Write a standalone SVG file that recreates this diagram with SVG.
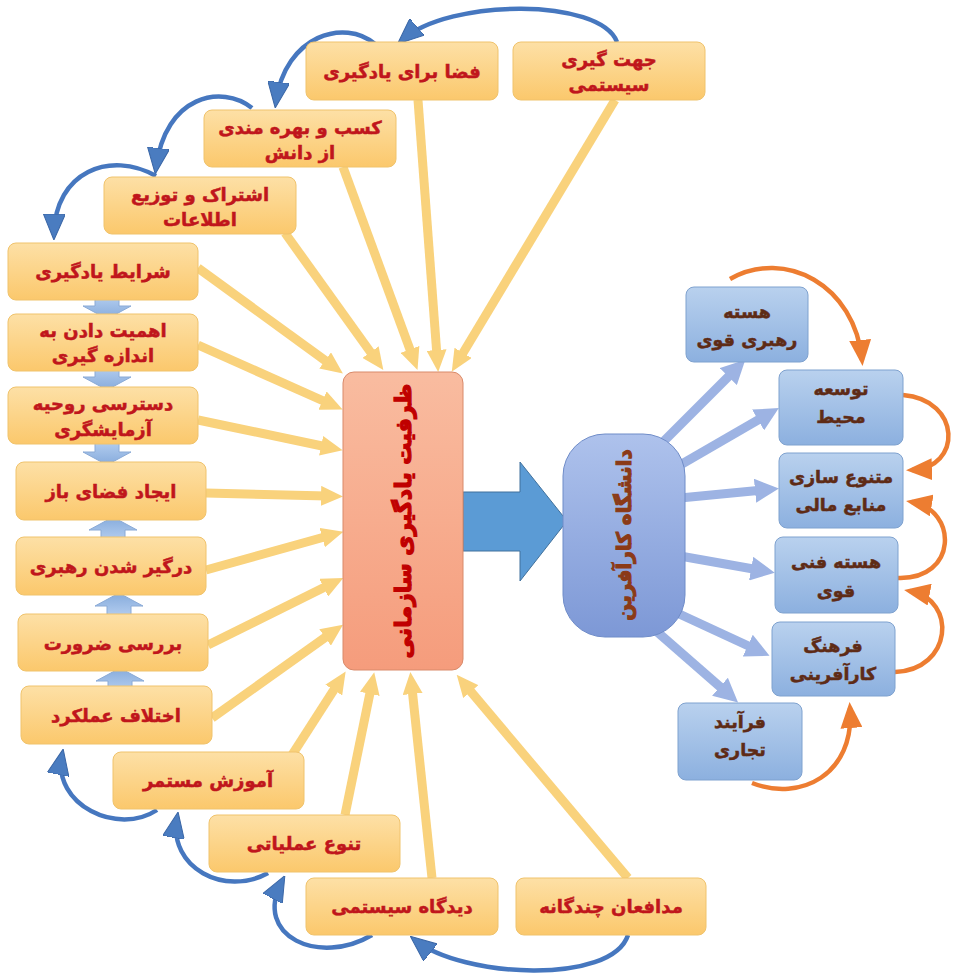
<svg xmlns="http://www.w3.org/2000/svg" width="958" height="973" viewBox="0 0 958 973">
<defs>
<linearGradient id="gy" x1="0" y1="0" x2="0" y2="1"><stop offset="0" stop-color="#fde0a6"/><stop offset="1" stop-color="#fbc86c"/></linearGradient>
<linearGradient id="gb" x1="0" y1="0" x2="0" y2="1"><stop offset="0" stop-color="#b9d1ee"/><stop offset="1" stop-color="#8cb0df"/></linearGradient>
<linearGradient id="gc" x1="0" y1="0" x2="0" y2="1"><stop offset="0" stop-color="#f9bca0"/><stop offset="1" stop-color="#f59c7c"/></linearGradient>
<linearGradient id="gu" x1="0" y1="0" x2="0" y2="1"><stop offset="0" stop-color="#aec2ec"/><stop offset="1" stop-color="#7d98d6"/></linearGradient>
<linearGradient id="gk" x1="0" y1="0" x2="0" y2="1"><stop offset="0" stop-color="#b3cdef"/><stop offset="1" stop-color="#86abdc"/></linearGradient>
<marker id="yh" viewBox="0 0 22 20" markerWidth="22" markerHeight="20" refX="6" refY="10" markerUnits="userSpaceOnUse" orient="auto"><path d="M0,0 L22,10 L0,20 Z" fill="#f9d27c"/></marker>
<marker id="lh" viewBox="0 0 24 24" markerWidth="24" markerHeight="24" refX="8" refY="12" markerUnits="userSpaceOnUse" orient="auto"><path d="M0,0 L24,12 L0,24 Z" fill="#9db3e3"/></marker>
<marker id="bh" viewBox="0 0 26 22" markerWidth="26" markerHeight="22" refX="20" refY="11" markerUnits="userSpaceOnUse" orient="auto"><path d="M0,0 L26,11 L0,22 Z" fill="#4a7cc0" stroke="#3a66a6" stroke-width="1"/></marker>
<marker id="oh" viewBox="0 0 26 22" markerWidth="26" markerHeight="22" refX="20" refY="11" markerUnits="userSpaceOnUse" orient="auto"><path d="M0,0 L26,11 L0,22 Z" fill="#ed7d31"/></marker>
<path id="blk" d="M-12,-10 H12 V0 H24 L0,13 L-24,0 H-12 Z"/>
<style>
.yb{fill:url(#gy);stroke:#f0c36c;stroke-width:1}
.bb{fill:url(#gb);stroke:#7fa2cf;stroke-width:1}
.yt{font-family:"DejaVu Sans",sans-serif;font-weight:bold;font-size:18px;fill:#c0161c;stroke:#c0161c;stroke-width:0.5;text-anchor:middle}
.bt{font-family:"DejaVu Sans",sans-serif;font-weight:bold;font-size:17.5px;fill:#5e2b16;stroke:#5e2b16;stroke-width:0.5;text-anchor:middle}
.yl{stroke:#f9d27c;stroke-width:9;fill:none;marker-end:url(#yh)}
.ll{stroke:#9db3e3;stroke-width:9;fill:none;marker-end:url(#lh)}
.bc{stroke:#4677bf;stroke-width:4.5;fill:none;marker-end:url(#bh)}
.oc{stroke:#ed7d31;stroke-width:4.5;fill:none;marker-end:url(#oh)}
.ba{fill:url(#gk);stroke:#8aaad6;stroke-width:1}
</style>
</defs>
<rect width="958" height="973" fill="#ffffff"/>

<g id="connectors">
<line class="yl" x1="615" y1="100" x2="460" y2="358"/>
<line class="yl" x1="418" y1="100" x2="437" y2="356"/>
<line class="yl" x1="343" y1="167" x2="412" y2="355"/>
<line class="yl" x1="285" y1="233" x2="374" y2="357"/>
<line class="yl" x1="198" y1="268" x2="330" y2="364"/>
<line class="yl" x1="198" y1="345" x2="328" y2="403"/>
<line class="yl" x1="198" y1="420" x2="327" y2="447"/>
<line class="yl" x1="206" y1="493" x2="327" y2="496"/>
<line class="yl" x1="206" y1="570" x2="328" y2="536"/>
<line class="yl" x1="208" y1="645" x2="329" y2="585"/>
<line class="yl" x1="212" y1="718" x2="330" y2="634"/>
<line class="yl" x1="292" y1="755" x2="337" y2="685"/>
<line class="yl" x1="345" y1="815" x2="371" y2="688"/>
<line class="yl" x1="432" y1="878" x2="412" y2="688"/>
<line class="yl" x1="628" y1="878" x2="467" y2="687"/>

<line class="ll" x1="660" y1="445" x2="734" y2="371"/>
<line class="ll" x1="675" y1="468" x2="765" y2="416"/>
<line class="ll" x1="680" y1="498" x2="763" y2="490"/>
<line class="ll" x1="680" y1="556" x2="759" y2="570"/>
<line class="ll" x1="675" y1="612" x2="755" y2="649"/>
<line class="ll" x1="655" y1="630" x2="726" y2="692"/>

<path class="bc" d="M617,42 C600,-2 450,-2 402,40"/>
<path class="bc" d="M375,44 C345,18 285,35 276,102"/>
<path class="bc" d="M252,108 C222,84 165,95 156,168"/>
<path class="bc" d="M156,176 C110,150 55,172 54,234"/>
<path class="bc" d="M157,810 C118,836 52,805 62,755"/>
<path class="bc" d="M268,873 C225,897 168,868 177,818"/>
<path class="bc" d="M372,935 C320,966 252,937 282,881"/>
<path class="bc" d="M628,935 C612,985 462,978 415,940"/>

<path class="oc" d="M730,279 C785,248 855,285 862,360"/>
<path class="oc" d="M903,395 C962,400 962,468 912,470"/>
<path class="oc" d="M898,578 C958,580 958,510 912,502"/>
<path class="oc" d="M895,672 C952,670 958,600 910,591"/>
<path class="oc" d="M752,783 C800,802 855,775 850,708"/>

<use href="#blk" x="107" y="306" class="ba"/>
<use href="#blk" x="107" y="377" class="ba"/>
<use href="#blk" x="107" y="452" class="ba"/>
<use href="#blk" class="ba" transform="translate(113,530) rotate(180)"/>
<use href="#blk" class="ba" transform="translate(119,606) rotate(180)"/>
<use href="#blk" class="ba" transform="translate(120,681) rotate(180)"/>

<polygon points="463,492 520,492 520,462 567,521 520,581 520,551 463,551" fill="#5b9bd5" stroke="#41719c" stroke-width="1"/>
</g>

<g id="n-jahat"><rect class="yb" x="513" y="42" width="192" height="58" rx="8"/><text class="yt" x="609" y="66">جهت گیری</text><text class="yt" x="609" y="91">سیستمی</text></g>
<g id="n-faza"><rect class="yb" x="306" y="42" width="192" height="58" rx="8"/><text class="yt" x="402" y="78">فضا برای یادگیری</text></g>
<g id="n-kasb"><rect class="yb" x="204" y="110" width="192" height="57" rx="8"/><text class="yt" x="300" y="134">کسب و بهره مندی</text><text class="yt" x="300" y="159">از دانش</text></g>
<g id="n-eshterak"><rect class="yb" x="104" y="177" width="192" height="57" rx="8"/><text class="yt" x="200" y="201">اشتراک و توزیع</text><text class="yt" x="200" y="226">اطلاعات</text></g>
<g id="n-sharayet"><rect class="yb" x="8" y="243" width="190" height="57" rx="8"/><text class="yt" x="103" y="278">شرایط یادگیری</text></g>
<g id="n-ahamiyat"><rect class="yb" x="8" y="314" width="190" height="57" rx="8"/><text class="yt" x="103" y="337">اهمیت دادن به</text><text class="yt" x="103" y="362">اندازه گیری</text></g>
<g id="n-dastresi"><rect class="yb" x="8" y="387" width="190" height="57" rx="8"/><text class="yt" x="103" y="410">دسترسی روحیه</text><text class="yt" x="103" y="436">آزمایشگری</text></g>
<g id="n-ijad"><rect class="yb" x="16" y="462" width="190" height="58" rx="8"/><text class="yt" x="111" y="498">ایجاد فضای باز</text></g>
<g id="n-dargir"><rect class="yb" x="16" y="537" width="190" height="58" rx="8"/><text class="yt" x="111" y="573">درگیر شدن رهبری</text></g>
<g id="n-barresi"><rect class="yb" x="18" y="614" width="190" height="57" rx="8"/><text class="yt" x="113" y="650">بررسی ضرورت</text></g>
<g id="n-ekhtelaf"><rect class="yb" x="21" y="686" width="191" height="58" rx="8"/><text class="yt" x="116" y="722">اختلاف عملکرد</text></g>
<g id="n-amuzesh"><rect class="yb" x="113" y="752" width="191" height="57" rx="8"/><text class="yt" x="208" y="787">آموزش مستمر</text></g>
<g id="n-tanavo"><rect class="yb" x="209" y="815" width="191" height="57" rx="8"/><text class="yt" x="304" y="850">تنوع عملیاتی</text></g>
<g id="n-didgah"><rect class="yb" x="306" y="878" width="192" height="57" rx="8"/><text class="yt" x="402" y="913">دیدگاه سیستمی</text></g>
<g id="n-modafean"><rect class="yb" x="516" y="878" width="190" height="57" rx="8"/><text class="yt" x="611" y="913">مدافعان چندگانه</text></g>

<g id="n-center"><rect x="343" y="372" width="120" height="298" rx="11" fill="url(#gc)" stroke="#d98a6a" stroke-width="1"/><text transform="translate(403,521) rotate(-90)" font-family="DejaVu Sans,sans-serif" font-weight="bold" font-size="22" fill="#c00000" stroke="#c00000" stroke-width="1.2" text-anchor="middle" dominant-baseline="central">ظرفیت یادگیری سازمانی</text></g>

<g id="n-daneshgah"><rect x="563" y="434" width="122" height="203" rx="42" fill="url(#gu)" stroke="#6f8cc8" stroke-width="1"/><text transform="translate(624,535) rotate(-90)" font-family="DejaVu Sans,sans-serif" font-weight="bold" font-size="20" fill="#8b3a17" stroke="#8b3a17" stroke-width="1.1" text-anchor="middle" dominant-baseline="central">دانشگاه کارآفرین</text></g>

<g id="n-hasteh-rahbari"><rect class="bb" x="686" y="287" width="122" height="75" rx="8"/><text class="bt" x="747" y="318">هسته</text><text class="bt" x="747" y="346">رهبری قوی</text></g>
<g id="n-tose-e"><rect class="bb" x="779" y="370" width="124" height="75" rx="8"/><text class="bt" x="841" y="395">توسعه</text><text class="bt" x="841" y="423">محیط</text></g>
<g id="n-motanavo"><rect class="bb" x="779" y="453" width="124" height="75" rx="8"/><text class="bt" x="841" y="483">متنوع سازی</text><text class="bt" x="841" y="511">منابع مالی</text></g>
<g id="n-hasteh-fanni"><rect class="bb" x="775" y="537" width="123" height="76" rx="8"/><text class="bt" x="836" y="568">هسته فنی</text><text class="bt" x="836" y="597">قوی</text></g>
<g id="n-farhang"><rect class="bb" x="772" y="622" width="123" height="74" rx="8"/><text class="bt" x="833" y="652">فرهنگ</text><text class="bt" x="833" y="680">کارآفرینی</text></g>
<g id="n-farayand"><rect class="bb" x="678" y="703" width="124" height="77" rx="8"/><text class="bt" x="740" y="728">فرآیند</text><text class="bt" x="740" y="756">تجاری</text></g>
</svg>
